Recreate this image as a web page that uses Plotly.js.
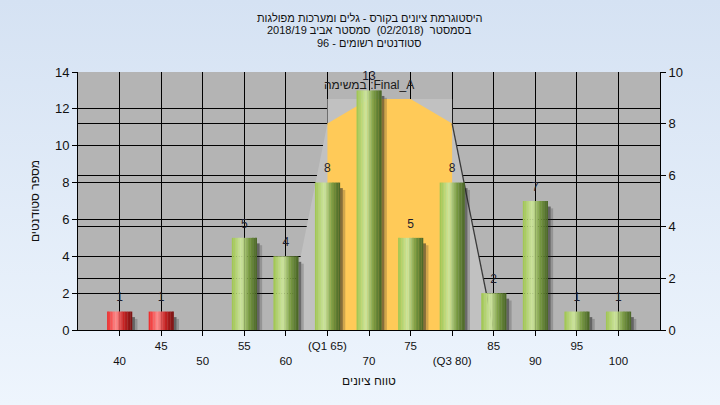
<!DOCTYPE html>
<html>
<head>
<meta charset="utf-8">
<script src="https://cdn.plot.ly/plotly-3.0.1.min.js"></script>
<style>
html,body{margin:0;padding:0;}
#chart{width:720px;height:405px;background:linear-gradient(to bottom,#d5e2f3,#eef5fd);}
</style>
</head>
<body>
<div id="chart"></div>
<script>
// ---- data ----
const categories = ['40','45','50','55','60','65','70','75','80','85','90','95','100'];
const tickLabels = ['40','45','50','55','60','(Q1 65)','70','75','(Q3 80)','85','90','95','100'];
const counts = [1,1,0,5,4,8,13,5,8,2,7,1,1];
const failingCategories = ['40','45'];
// background areas (right axis units)
const rangeX = ['60','65','65','80','80','85'];
const rangeY = [0,8,8.95,8.95,8,0];
const iqrX = ['65','70','75','80'];
const iqrY = [8,8.95,8.95,8];
const titleLines = [
  'היסטוגרמת ציונים בקורס - גלים ומערכות מפולגות',
  'בסמסטר  (02/2018)  סמסטר אביב 2018/19',
  'סטודנטים רשומים - 96'
];
const taskLabel = 'במשימה :Final_A';
const xTitle = 'טווח ציונים';
const yTitle = 'מספר סטודנטים';

// ---- styling helpers ----
const FONT = 'Liberation Sans, Arial, sans-serif';
const gStops = [[0,[158,196,78]],[0.38,[207,230,160]],[0.68,[122,156,66]],[1,[72,100,38]]];
const rStops = [[0,[236,38,38]],[0.36,[255,142,142]],[0.66,[200,34,34]],[1,[118,16,16]]];
function grad(stops,t){
  for(let i=1;i<stops.length;i++){
    if(t<=stops[i][0]){
      const a=stops[i-1],b=stops[i],f=(t-a[0])/(b[0]-a[0]);
      const c=a[1].map((v,k)=>Math.round(v+(b[1][k]-v)*f));
      return 'rgb('+c.join(',')+')';
    }
  }
  return 'rgb('+stops[stops.length-1][1].join(',')+')';
}

const traces = [];
// light envelope area (main axis = right axis)
traces.push({type:'scatter',mode:'lines',x:rangeX,y:rangeY,fill:'toself',fillcolor:'#c1c1c1',
  line:{width:0,color:'rgba(0,0,0,0)'},hoverinfo:'skip',showlegend:false});
// orange inter-quartile area
traces.push({type:'scatter',mode:'lines',x:iqrX,y:iqrY,fill:'tozeroy',fillcolor:'#ffca58',
  line:{width:0,color:'rgba(0,0,0,0)'},hoverinfo:'skip',showlegend:false});
// dark right edge of the envelope
traces.push({type:'scatter',mode:'lines',x:rangeX.slice(4),y:rangeY.slice(4),
  line:{width:1.3,color:'#3a3a3a'},hoverinfo:'skip',showlegend:false});

const barW = 0.6, N = 16;
// shadows
traces.push({type:'bar',x:categories,y:counts.map(v=>Math.max(0,v-0.3)),yaxis:'y2',
  offset:barW/2,width:0.07,marker:{color:'rgba(35,35,35,0.55)',line:{width:0}},hoverinfo:'skip',showlegend:false});
traces.push({type:'bar',x:categories,y:counts.map(v=>Math.max(0,v-0.4)),yaxis:'y2',
  offset:barW/2+0.07,width:0.06,marker:{color:'rgba(35,35,35,0.22)',line:{width:0}},hoverinfo:'skip',showlegend:false});
// cylinder-like bars as thin vertical slices
for(let i=0;i<N;i++){
  const t=(i+0.5)/N;
  traces.push({type:'bar',x:categories,y:counts,yaxis:'y2',
    offset:-barW/2+i*barW/N,width:barW/N*1.15,
    marker:{color:categories.map(c=>failingCategories.includes(c)?grad(rStops,t):grad(gStops,t)),line:{width:0}},
    hoverinfo:'skip',showlegend:false});
}
// value labels
traces.push({type:'scatter',mode:'markers+text',x:categories,y:counts,yaxis:'y2',
  text:counts.map(v=>v?String(v):''),textposition:'top center',
  marker:{size:10,color:'rgba(0,0,0,0)'},
  textfont:{family:FONT,size:12,color:'#1c1c2c'},cliponaxis:false,hoverinfo:'skip',showlegend:false});

const titleY = [18,30.5,43];
const annotations = titleLines.map((t,i)=>({
  text:t,xref:'paper',yref:'paper',x:0.5,y:1+(72-titleY[i])/258,xanchor:'center',yanchor:'middle',
  showarrow:false,font:{family:FONT,size:11,color:'#111'}
}));
annotations.push({text:taskLabel,xref:'paper',yref:'paper',x:0.5,y:1-(85-72)/258,xanchor:'center',yanchor:'middle',
  showarrow:false,font:{family:FONT,size:12,color:'#1a1a1a'}});

const layout = {
  width:720,height:405,
  margin:{l:78,r:60,t:72,b:75},
  paper_bgcolor:'rgba(0,0,0,0)',plot_bgcolor:'#b4b4b4',
  showlegend:false,barmode:'overlay',
  xaxis:{type:'category',categoryorder:'array',categoryarray:categories,range:[-1,categories.length],
    tickmode:'array',tickvals:categories,
    ticktext:tickLabels.map((t,i)=>i%2===0?'<br>'+t:t),
    ticks:'outside',ticklen:5,tickcolor:'#000',showline:true,linecolor:'#000',linewidth:1,
    showgrid:true,gridcolor:'#000',gridwidth:1,zeroline:false,
    tickfont:{family:FONT,size:11.5,color:'#111'},
    title:{text:xTitle,font:{family:FONT,size:12,color:'#111'},standoff:10},fixedrange:true},
  yaxis:{side:'right',range:[0,10],dtick:2,tick0:0,ticks:'outside',ticklen:5,tickcolor:'#000',
    showline:true,linecolor:'#000',showgrid:true,gridcolor:'#000',gridwidth:1,zeroline:false,
    tickfont:{family:FONT,size:13,color:'#111'},fixedrange:true},
  yaxis2:{overlaying:'y',side:'left',range:[0,14],dtick:2,tick0:0,ticks:'outside',ticklen:5,tickcolor:'#000',
    showline:true,linecolor:'#000',showgrid:true,gridcolor:'#000',gridwidth:1,zeroline:false,
    tickfont:{family:FONT,size:13,color:'#111'},
    title:{text:yTitle,font:{family:FONT,size:12,color:'#111'},standoff:12},fixedrange:true},
  annotations:annotations
};
Plotly.newPlot('chart',traces,layout,{displayModeBar:false,staticPlot:true});
</script>
</body>
</html>
